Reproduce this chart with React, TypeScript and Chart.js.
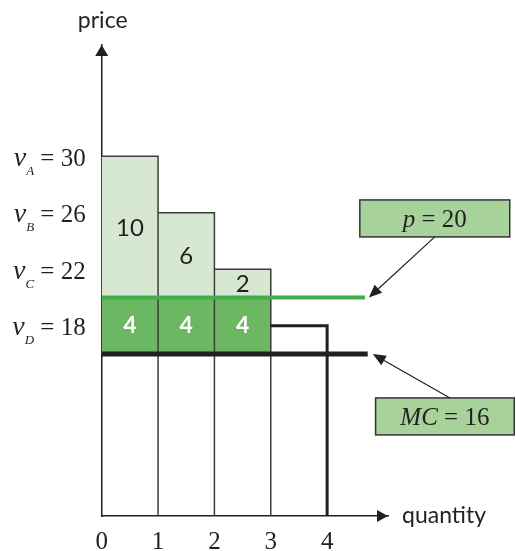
import React, { useEffect, useRef } from "react";
import { Chart, registerables } from "chart.js";

Chart.register(...registerables);

// ---------- data ----------
const buyerLetters = ["A", "B", "C", "D"];
const valuations = [30, 26, 22, 18];
const price = 20;
const marginalCost = 16;
const consumerSurplus = [10, 6, 2];
const profitPerUnit = [4, 4, 4];
const quantityTicks = [0, 1, 2, 3, 4];
const lineReach = [4.67, 4.72]; // quantity where the p and MC lines stop
const xRange = [0, 5.08];
const yRange = [4.53, 37.88];

// ---------- styles ----------
const INK = "#231f20";
const OUTLINE = "#3d3d3d";
const LIGHT_GREEN = "#d6e8d2";
const DARK_GREEN = "#6cb862";
const LINE_GREEN = "#3fae49";
const BOX_GREEN = "#a7d39b";
const SERIF = "'Liberation Serif', 'DejaVu Serif', serif";
const SANS = "Lato, 'Open Sans', sans-serif";

const buyersWhoBuy = valuations.filter((v) => v >= price);

function arrowHead(
  ctx: CanvasRenderingContext2D,
  tipX: number,
  tipY: number,
  fromX: number,
  fromY: number,
  len: number,
  halfW: number
) {
  const a = Math.atan2(tipY - fromY, tipX - fromX);
  const bx = tipX - len * Math.cos(a);
  const by = tipY - len * Math.sin(a);
  ctx.beginPath();
  ctx.moveTo(tipX, tipY);
  ctx.lineTo(bx + halfW * Math.sin(a), by - halfW * Math.cos(a));
  ctx.lineTo(bx - halfW * Math.sin(a), by + halfW * Math.cos(a));
  ctx.closePath();
  ctx.fill();
  return [bx, by];
}

type Part = { t: string; font: string; dy?: number };

function drawParts(ctx: CanvasRenderingContext2D, parts: Part[], left: number, baseline: number) {
  let x = left;
  ctx.textAlign = "left";
  ctx.textBaseline = "alphabetic";
  for (const p of parts) {
    ctx.font = p.font;
    ctx.fillText(p.t, x, baseline + (p.dy || 0));
    x += ctx.measureText(p.t).width;
  }
}

function partsWidth(ctx: CanvasRenderingContext2D, parts: Part[]) {
  let w = 0;
  for (const p of parts) {
    ctx.font = p.font;
    w += ctx.measureText(p.t).width;
  }
  return w;
}

const annotationPlugin = {
  id: "econAnnotations",
  afterDraw(chart: any) {
    const { ctx, chartArea, scales } = chart;
    const xs = scales.x;
    const ys = scales.y;
    const px = (v: number) => xs.getPixelForValue(v);
    const py = (v: number) => ys.getPixelForValue(v);
    ctx.save();
    ctx.fillStyle = INK;
    ctx.strokeStyle = INK;

    // axis arrowheads
    const ox = px(xRange[0]);
    const oy = py(yRange[0]);
    arrowHead(ctx, px(xRange[1]), oy, ox, oy, 11, 6);
    arrowHead(ctx, ox, py(yRange[1]), ox, oy, 11, 6.5);

    // axis titles
    ctx.font = `23px ${SANS}`;
    ctx.textAlign = "center";
    ctx.textBaseline = "alphabetic";
    ctx.fillText("price", ox + 1, chartArea.top - 17);
    ctx.textAlign = "left";
    ctx.textBaseline = "middle";
    ctx.fillText("quantity", chartArea.right + 14, oy);

    // valuation labels on the left
    valuations.forEach((v, i) => {
      const parts: Part[] = [
        { t: "v", font: `italic 28px ${SERIF}` },
        { t: buyerLetters[i], font: `italic 13px ${SERIF}`, dy: 9 },
        { t: " = " + v, font: `25px ${SERIF}` },
      ];
      const w = partsWidth(ctx, parts);
      ctx.fillStyle = INK;
      drawParts(ctx, parts, ox - 16 - w, py(v) + 9.5);
    });

    // surplus labels in the bars
    ctx.textAlign = "center";
    ctx.textBaseline = "middle";
    consumerSurplus.forEach((s, i) => {
      ctx.font = `24px ${SANS}`;
      ctx.fillStyle = INK;
      ctx.fillText(String(s), px(i + 0.5), py((price + buyersWhoBuy[i]) / 2) + 1);
    });
    profitPerUnit.forEach((s, i) => {
      ctx.font = `bold 23px ${SANS}`;
      ctx.fillStyle = "#ffffff";
      ctx.fillText(String(s), px(i + 0.5), py((price + marginalCost) / 2));
    });

    // callout boxes with arrows
    const boxes = [
      {
        parts: [
          { t: "p", font: `italic 25px ${SERIF}` },
          { t: " = " + price, font: `25px ${SERIF}` },
        ] as Part[],
        box: [4.58, 7.24, 24.29, 26.91],
        from: [5.91, 24.29],
        to: [4.74, price],
      },
      {
        parts: [
          { t: "MC", font: `italic 25px ${SERIF}` },
          { t: " = " + marginalCost, font: `25px ${SERIF}` },
        ] as Part[],
        box: [4.86, 7.32, 10.27, 12.89],
        from: [6.18, 12.89],
        to: [4.81, marginalCost],
      },
    ];
    for (const b of boxes) {
      const x0 = px(b.box[0]);
      const x1 = px(b.box[1]);
      const y0 = py(b.box[3]);
      const y1 = py(b.box[2]);
      ctx.fillStyle = BOX_GREEN;
      ctx.fillRect(x0, y0, x1 - x0, y1 - y0);
      ctx.lineWidth = 1.5;
      ctx.strokeStyle = "#333333";
      ctx.strokeRect(x0, y0, x1 - x0, y1 - y0);
      ctx.fillStyle = INK;
      const w = partsWidth(ctx, b.parts);
      drawParts(ctx, b.parts, (x0 + x1) / 2 - w / 2, (y0 + y1) / 2 + 8.5);

      const fx = px(b.from[0]);
      const fy = py(b.from[1]);
      const tx = px(b.to[0]);
      const ty = py(b.to[1]);
      ctx.fillStyle = INK;
      const [bx, by] = arrowHead(ctx, tx, ty, fx, fy, 13, 5.5);
      ctx.strokeStyle = INK;
      ctx.lineWidth = 1.2;
      ctx.beginPath();
      ctx.moveTo(fx, fy);
      ctx.lineTo(bx, by);
      ctx.stroke();
    }
    ctx.restore();
  },
};

function buildConfig(): any {
  const outline: any[] = [];
  buyersWhoBuy.forEach((v, i) => {
    outline.push({ x: i, y: v }, { x: i + 1, y: v }, { x: i + 1, y: yRange[0] }, { x: i + 1, y: null });
  });
  const lastV = valuations[valuations.length - 1];
  const lastQ = valuations.length - 1;

  return {
    type: "bar",
    data: {
      datasets: [
        {
          type: "line",
          label: "p",
          data: [
            { x: 0, y: price },
            { x: lineReach[0], y: price },
          ],
          borderColor: LINE_GREEN,
          borderWidth: 4,
          pointRadius: 0,
          order: 1,
        },
        {
          type: "line",
          label: "MC",
          data: [
            { x: 0, y: marginalCost },
            { x: lineReach[1], y: marginalCost },
          ],
          borderColor: INK,
          borderWidth: 5,
          pointRadius: 0,
          order: 2,
        },
        {
          type: "line",
          label: "buyer D",
          data: [
            { x: lastQ, y: lastV },
            { x: lastQ + 1, y: lastV },
            { x: lastQ + 1, y: yRange[0] },
          ],
          borderColor: INK,
          borderWidth: 3,
          pointRadius: 0,
          borderJoinStyle: "miter",
          order: 3,
        },
        {
          type: "line",
          label: "outline",
          data: outline,
          borderColor: OUTLINE,
          borderWidth: 1.5,
          pointRadius: 0,
          spanGaps: false,
          borderJoinStyle: "miter",
          order: 4,
        },
        {
          type: "bar",
          label: "profit",
          data: buyersWhoBuy.map((v, i) => ({ x: i + 0.5, y: [marginalCost, price] })),
          backgroundColor: DARK_GREEN,
          borderWidth: 0,
          grouped: false,
          barPercentage: 1,
          categoryPercentage: 1,
          order: 5,
        },
        {
          type: "bar",
          label: "surplus",
          data: buyersWhoBuy.map((v, i) => ({ x: i + 0.5, y: [price, v] })),
          backgroundColor: LIGHT_GREEN,
          borderWidth: 0,
          grouped: false,
          barPercentage: 1,
          categoryPercentage: 1,
          order: 6,
        },
      ],
    },
    options: {
      responsive: false,
      animation: false,
      events: [],
      layout: { padding: { left: 101.7, right: 128, top: 45, bottom: 0 } },
      plugins: { legend: { display: false }, tooltip: { enabled: false } },
      scales: {
        x: {
          type: "linear",
          min: xRange[0],
          max: xRange[1],
          offset: false,
          z: 1,
          grid: { display: false, drawTicks: false, offset: false },
          border: { display: true, color: INK, width: 1.5 },
          afterBuildTicks: (s: any) => {
            s.ticks = quantityTicks.map((v) => ({ value: v }));
          },
          afterFit: (s: any) => {
            s.height = 35;
          },
          ticks: {
            autoSkip: false,
            maxRotation: 0,
            padding: 11,
            color: INK,
            font: { family: SERIF, size: 25 },
            callback: (v: any) => String(v),
          },
        },
        y: {
          type: "linear",
          min: yRange[0],
          max: yRange[1],
          z: 1,
          grid: { display: false, drawTicks: false },
          border: { display: true, color: INK, width: 1.5 },
          ticks: { display: false },
          afterFit: (s: any) => {
            s.width = 0;
          },
        },
      },
    },
    plugins: [annotationPlugin],
  };
}

export default function App() {
  const ref = useRef<HTMLCanvasElement>(null);
  useEffect(() => {
    const chart = new Chart(ref.current as HTMLCanvasElement, buildConfig());
    return () => chart.destroy();
  }, []);
  return (
    <div style={{ position: "fixed", left: 0, top: 0, width: 516, height: 551, background: "#ffffff" }}>
      <canvas ref={ref} width={516} height={551} style={{ display: "block" }} />
    </div>
  );
}
